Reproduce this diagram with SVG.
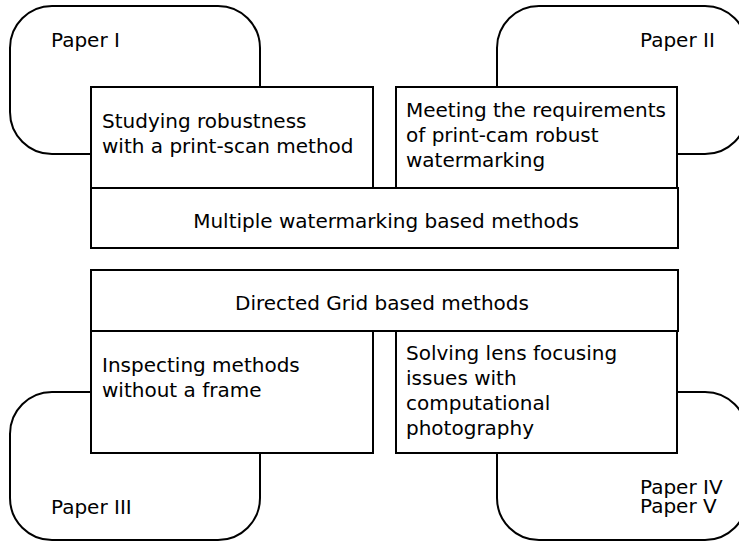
<svg xmlns="http://www.w3.org/2000/svg" width="739" height="542" viewBox="0 0 739 542">
  <style>
    .paper { fill: #ffffff; stroke: #000000; stroke-width: 2; }
    .box { fill: #ffffff; stroke: #000000; stroke-width: 2; }
    text { font-family: "DejaVu Sans", "Liberation Sans", sans-serif; font-size: 20px; fill: #000000; }
    .mid { text-anchor: middle; }
  </style>
  <rect width="739" height="542" fill="#ffffff"/>

  <!-- paper groupings (rounded backdrops) -->
  <g id="paper1">
    <rect class="paper" x="10" y="6" width="250" height="148" rx="42" ry="42"/>
    <text x="51" y="47">Paper I</text>
  </g>
  <g id="paper2">
    <rect class="paper" x="497" y="6" width="250" height="148" rx="42" ry="42"/>
    <text x="640" y="47">Paper II</text>
  </g>
  <g id="paper3">
    <rect class="paper" x="10" y="392" width="250" height="148" rx="42" ry="42"/>
    <text x="51" y="514">Paper III</text>
  </g>
  <g id="paper45">
    <rect class="paper" x="497" y="392" width="250" height="148" rx="42" ry="42"/>
    <!-- two tightly stacked lines in one text block -->
    <text x="640" y="494"><tspan x="640">Paper IV</tspan><tspan x="640" dy="19">Paper V</tspan></text>
  </g>

  <!-- topic boxes -->
  <g id="studying">
    <rect class="box" x="91" y="87" width="282" height="101"/>
    <text x="102" y="128">Studying robustness</text>
    <text x="102" y="153">with a print-scan method</text>
  </g>
  <g id="meeting">
    <rect class="box" x="396" y="87" width="281" height="101"/>
    <text x="406" y="117">Meeting the requirements</text>
    <text x="406" y="142">of print-cam robust</text>
    <text x="406" y="167">watermarking</text>
  </g>
  <g id="multiple">
    <rect class="box" x="91" y="188" width="587" height="60"/>
    <text class="mid" x="386" y="228">Multiple watermarking based methods</text>
  </g>

  <g id="directed">
    <rect class="box" x="91" y="270" width="587" height="61"/>
    <text class="mid" x="382" y="310">Directed Grid based methods</text>
  </g>
  <g id="inspecting">
    <rect class="box" x="91" y="331" width="282" height="122"/>
    <text x="102" y="372">Inspecting methods</text>
    <text x="102" y="397">without a frame</text>
  </g>
  <g id="solving">
    <rect class="box" x="396" y="331" width="281" height="122"/>
    <text x="406" y="360">Solving lens focusing</text>
    <text x="406" y="385">issues with</text>
    <text x="406" y="410">computational</text>
    <text x="406" y="435">photography</text>
  </g>

  <g id="connectors"></g>
</svg>
